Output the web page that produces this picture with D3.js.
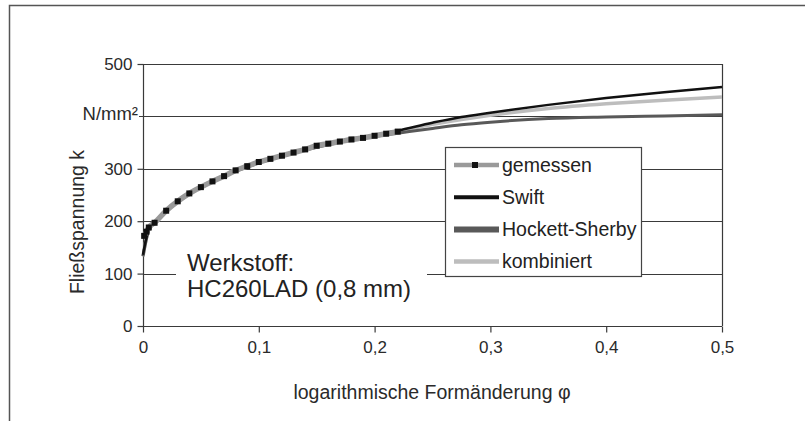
<!DOCTYPE html>
<html>
<head>
<meta charset="utf-8">
<script src="https://cdn.jsdelivr.net/npm/d3@7"></script>
<style>
  html, body { margin: 0; padding: 0; background: #fff; }
  svg { display: block; font-family: "Liberation Sans", Arial, sans-serif; }
</style>
</head>
<body>
<svg id="chart" width="805" height="421"></svg>
<script>
// Flow curve of HC260LAD (0,8 mm): measured points and three fitted models
const seriesNames = ["gemessen", "Swift", "Hockett-Sherby", "kombiniert"];

// measured flow stress (phi, k)
const measuredPhi = [0.001, 0.003, 0.005, 0.01, 0.02, 0.03, 0.04, 0.05, 0.06, 0.07, 0.08, 0.09, 0.10,
                     0.11, 0.12, 0.13, 0.14, 0.15, 0.16, 0.17, 0.18, 0.19, 0.20, 0.21, 0.22];
const measuredK   = [172, 180, 188, 197, 220, 238, 253, 265, 276, 286, 297, 305, 313,
                     319, 325, 331, 337, 344, 348, 352, 356, 359, 363, 367, 371];

// model curves sampled over phi
const modelPhi   = [0, 0.005, 0.01, 0.02, 0.04, 0.06, 0.08, 0.10, 0.12, 0.14, 0.16, 0.18, 0.20, 0.22,
                    0.25, 0.275, 0.30, 0.35, 0.40, 0.45, 0.50];
const swiftK     = [136, 185, 198, 220, 253, 277, 296, 312, 325, 337, 348, 357, 364, 373,
                    388, 399, 407, 422, 435, 446, 456];
const hockettK   = [133, 183, 197, 219, 252, 276, 295, 311, 324, 336, 346, 355, 362, 368,
                    377, 384, 389, 396, 399, 401, 403];
const kombiK     = [133, 184, 197, 220, 253, 277, 296, 312, 325, 337, 347, 356, 363, 371,
                    385, 394, 402, 415, 424, 431, 437];

const xTicks = [0, 0.1, 0.2, 0.3, 0.4, 0.5];
const xTickLabels = ["0", "0,1", "0,2", "0,3", "0,4", "0,5"];
const yTicks = [0, 100, 200, 300, 500];
const yTickLabels = ["0", "100", "200", "300", "500"];
const yUnit = "N/mm²";

const svg = d3.select("#chart");
const margin = { left: 143, right: 83, top: 64, bottom: 95 };
const W = 805, H = 421;

const x = d3.scaleLinear().domain([0, 0.5]).range([margin.left, W - margin.right]);
const y = d3.scaleLinear().domain([0, 500]).range([H - margin.bottom, margin.top]);

const axisColor = "#3a3a3a";
const textColor = "#2a2a2a";
const font = "Liberation Sans, Arial, sans-serif";

// outer frame (only left and top edges lie inside the page)
svg.append("path")
  .attr("d", `M9.5,${H} V5.5 H${W}`)
  .attr("fill", "none").attr("stroke", "#555").attr("stroke-width", 1.5);

// horizontal grid lines
svg.append("g")
  .selectAll("line")
  .data([100, 200, 300, 400, 500])
  .join("line")
  .attr("x1", d => d === 400 ? x(0) - 4 : x(0)).attr("x2", x(0.5))
  .attr("y1", d => Math.round(y(d)) + 0.5).attr("y2", d => Math.round(y(d)) + 0.5)
  .attr("stroke", axisColor).attr("stroke-width", 1.2);

// right border of plot
svg.append("line")
  .attr("x1", Math.round(x(0.5)) + 0.5).attr("x2", Math.round(x(0.5)) + 0.5)
  .attr("y1", y(500)).attr("y2", y(0))
  .attr("stroke", axisColor).attr("stroke-width", 1.2);

// y axis
const yAxis = d3.axisLeft(y).tickValues(yTicks).tickSize(6).tickPadding(5)
  .tickFormat((d, i) => yTickLabels[i]);
const gy = svg.append("g").attr("transform", `translate(${Math.round(x(0)) + 0.5},0)`).call(yAxis);

// x axis
const xAxis = d3.axisBottom(x).tickValues(xTicks).tickSize(6).tickPadding(8)
  .tickFormat((d, i) => xTickLabels[i]);
const gx = svg.append("g").attr("transform", `translate(0,${Math.round(y(0)) + 0.5})`).call(xAxis);

[gx, gy].forEach(g => {
  g.select(".domain").attr("stroke", axisColor).attr("stroke-width", 1.2);
  g.selectAll(".tick line").attr("stroke", axisColor).attr("stroke-width", 1.2);
  g.selectAll(".tick text").attr("fill", textColor)
    .style("font-size", "17px").style("font-family", font);
});
gx.select(".domain").attr("d", `M${x(0)},0H${x(0.5)}`);
gy.select(".domain").attr("d", `M0,${y(0)}V${y(500)}`);

// unit label in place of the 400 tick label
svg.append("text")
  .attr("x", x(0) - 5).attr("y", y(400) + 4)
  .attr("text-anchor", "end").attr("fill", textColor)
  .style("font-size", "18.5px").text(yUnit);

// axis titles
svg.append("text")
  .attr("x", 432).attr("y", 399)
  .attr("text-anchor", "middle")
  .attr("fill", textColor).style("font-size", "19.5px")
  .text("logarithmische Formänderung φ");

svg.append("text")
  .attr("transform", "translate(84,222) rotate(-90)")
  .attr("text-anchor", "middle")
  .attr("fill", textColor).style("font-size", "19.5px")
  .text("Fließspannung k");

// material annotation with white backing over the grid line
const note = svg.append("g");
note.append("rect").attr("x", 176).attr("y", 248).attr("width", 251).attr("height", 58).attr("fill", "#fff");
note.append("text").attr("x", 187).attr("y", 271).attr("fill", "#222").style("font-size", "24px").text("Werkstoff:");
note.append("text").attr("x", 187).attr("y", 297).attr("fill", "#222").style("font-size", "24px").text("HC260LAD (0,8 mm)");

// curves
const line = d3.line().x(d => x(d[0])).y(d => y(d[1])).curve(d3.curveMonotoneX);
const zip = (a, b) => a.map((v, i) => [v, b[i]]);

svg.append("path").datum(zip(modelPhi, kombiK))
  .attr("d", line).attr("fill", "none").attr("stroke", "#bdbdbd").attr("stroke-width", 3.5);
svg.append("path").datum(zip(modelPhi, hockettK))
  .attr("d", line).attr("fill", "none").attr("stroke", "#595959").attr("stroke-width", 3);
svg.append("path").datum(zip(modelPhi, swiftK))
  .attr("d", line).attr("fill", "none").attr("stroke", "#111").attr("stroke-width", 2.5);

const measured = zip(measuredPhi, measuredK);
svg.append("path").datum(measured)
  .attr("d", line).attr("fill", "none").attr("stroke", "#9a9a9a").attr("stroke-width", 5.5);
svg.append("g").selectAll("rect").data(measured).join("rect")
  .attr("x", d => x(d[0]) - 3).attr("y", d => y(d[1]) - 3)
  .attr("width", 6).attr("height", 6).attr("fill", "#111");

// legend
const lg = svg.append("g");
lg.append("rect").attr("x", 445.5).attr("y", 147.5).attr("width", 196).attr("height", 129)
  .attr("fill", "#fff").attr("stroke", "#444").attr("stroke-width", 1.2);
const legendStyles = [
  { color: "#9a9a9a", width: 4.5, marker: true },
  { color: "#111", width: 4 },
  { color: "#595959", width: 6 },
  { color: "#bdbdbd", width: 4.5 }
];
seriesNames.forEach((name, i) => {
  const cy = 165 + i * 32.2;
  const s = legendStyles[i];
  lg.append("line").attr("x1", 454).attr("x2", 499).attr("y1", cy).attr("y2", cy)
    .attr("stroke", s.color).attr("stroke-width", s.width);
  if (s.marker) {
    lg.append("rect").attr("x", 472).attr("y", cy - 3).attr("width", 6).attr("height", 6).attr("fill", "#111");
  }
  lg.append("text").attr("x", 502).attr("y", cy + 6.5).attr("fill", "#222")
    .style("font-size", "19.5px").text(name);
});
</script>
</body>
</html>
